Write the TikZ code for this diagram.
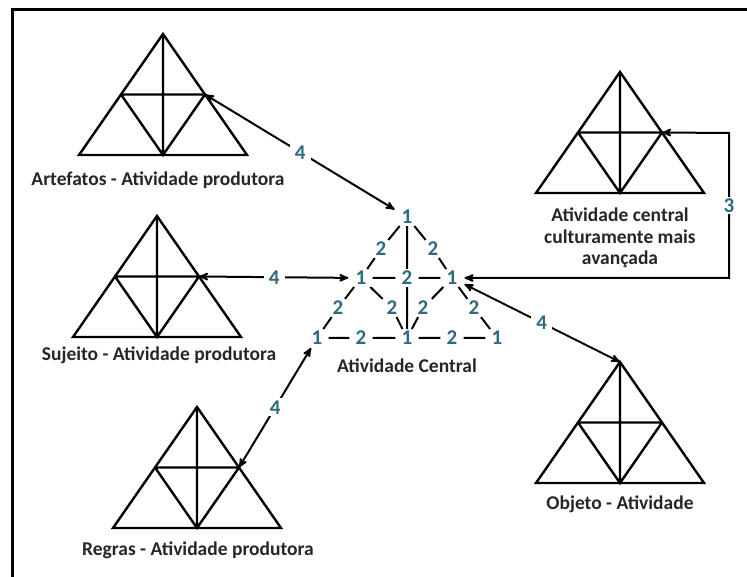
\documentclass[tikz,border=0pt]{standalone}
\usepackage{fontspec}
\setmainfont{Carlito}
\usepackage{xcolor}
\usepackage{tikz}
\usetikzlibrary{arrows}

\definecolor{numcor}{RGB}{46,107,126}
\definecolor{textocor}{RGB}{38,38,38}

% triangle with apex at (#2,#3), named #1
\newcommand{\triangulo}[3]{%
  \coordinate (#1-a) at (#2,#3);
  \coordinate (#1-l) at (#2-42,#3+60.5);
  \coordinate (#1-r) at (#2+42,#3+60.5);
  \coordinate (#1-bl) at (#2-84,#3+121);
  \coordinate (#1-bm) at (#2,#3+121);
  \coordinate (#1-br) at (#2+84,#3+121);
  \draw[tri] (#1-a) -- (#1-bl) -- (#1-br) -- cycle;
  \draw[tri] (#1-l) -- (#1-r) (#1-l) -- (#1-bm) -- (#1-r) (#1-a) -- (#1-bm);
}

\begin{document}
\begin{tikzpicture}[x=1pt,y=-1pt,>=stealth',
    tri/.style={line width=2.4pt,line join=miter},
    num/.style={text=numcor,font=\fontsize{21}{23}\selectfont\bfseries,inner xsep=6pt,inner ysep=2pt},
    seta/.style={num,fill=white,inner xsep=5pt},
    rotulo/.style={text=textocor,font=\fontsize{19.5}{21.5}\selectfont\bfseries,align=center},
    liga/.style={line width=2pt},
    duplo/.style={<->,line width=2pt,shorten >=1pt}]
    \useasboundingbox (0,0) rectangle (747,577);
    \clip (0,0) rectangle (747,577);
    \draw[line width=3pt] (12,600) -- (12,10) -- (760,10);

    % triangles
    \triangulo{art}{163}{34}
    \triangulo{suj}{157}{216}
    \triangulo{reg}{197}{407}
    \triangulo{obj}{620}{362}
    \triangulo{cult}{620}{72}

    \node[rotulo] (lart) at (158,180) {Artefatos - Atividade produtora};
    \node[rotulo] (lsuj) at (159,355) {Sujeito - Atividade produtora};
    \node[rotulo] (lreg) at (198,550) {Regras - Atividade produtora};
    \node[rotulo] (lobj) at (620,504) {Objeto - Atividade};
    \node[rotulo] (lcult) at (620,238) {Atividade central\\culturamente mais\\avançada};

    % central activity
    \node[num] (t1) at (407,217) {1};
    \node[num] (u1) at (381,249) {2};
    \node[num] (u2) at (433,249) {2};
    \node[num] (m1) at (361,278) {1};
    \node[num] (m2) at (407,278) {2};
    \node[num] (m3) at (452,278) {1};
    \node[num] (e1) at (338,308) {2};
    \node[num] (e2) at (392,308) {2};
    \node[num] (e3) at (423,308) {2};
    \node[num] (e4) at (474,308) {2};
    \node[num] (b1) at (317,338) {1};
    \node[num] (b2) at (361,338) {2};
    \node[num] (b3) at (407,338) {1};
    \node[num] (b4) at (452,338) {2};
    \node[num] (b5) at (497,338) {1};
    \node[rotulo] (lcen) at (407,366) {Atividade Central};

    \draw[liga] (t1) -- (u1) (u1) -- (m1)
                (t1) -- (u2) (u2) -- (m3)
                (t1) -- (m2) (m2) -- (b3)
                (m1) -- (m2) (m2) -- (m3)
                (m1) -- (e1) (e1) -- (b1)
                (m1) -- (e2) (e2) -- (b3)
                (m3) -- (e3) (e3) -- (b3)
                (m3) -- (e4) (e4) -- (b5)
                (b1) -- (b2) (b2) -- (b3) (b3) -- (b4) (b4) -- (b5);

    % connections
    \coordinate (canto) at (729,133);
    \draw[duplo] (art-r) -- node[seta] {4} (t1);
    \draw[duplo] (suj-r) -- node[seta] {4} (m1);
    \draw[duplo] (reg-r) -- node[seta] {4} (b1);
    \draw[duplo] (obj-a) -- node[seta] {4} (m3);
    \draw[duplo] (cult-r) -- (canto) |- node[seta,pos=0.25] {3} (m3);
\end{tikzpicture}
\end{document}
